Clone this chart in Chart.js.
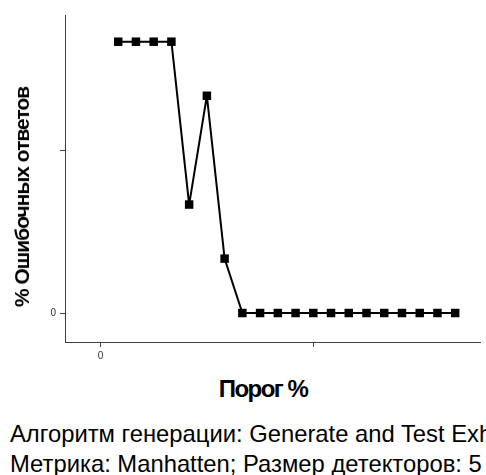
<!DOCTYPE html>
<html lang="ru">
<head>
  <meta charset="UTF-8">
  <title>Ошибочные ответы</title>
  <style>
    * { margin: 0; padding: 0; box-sizing: border-box; }
    body {
      width: 486px;
      height: 475px;
      background: #fff;
      overflow: hidden;
      position: relative;
      font-family: 'Liberation Sans', Arial, sans-serif;
      color: #000;
    }
    #chart {
      position: absolute;
      left: 0;
      top: 0;
    }
    .y-title {
      position: absolute;
      left: 22px;
      top: 197px;
      transform: translate(-50%, -50%) rotate(-90deg);
      font-weight: bold;
      font-size: 21px;
      letter-spacing: -1px;
      white-space: nowrap;
    }
    .x-title {
      position: absolute;
      left: 263px;
      top: 377px;
      transform: translateX(-50%);
      font-weight: bold;
      font-size: 24px;
      line-height: 24px;
      letter-spacing: -1.5px;
      white-space: nowrap;
    }
    .caption {
      position: absolute;
      left: 10px;
      top: 419px;
      font-size: 23.8px;
      line-height: 30px;
      white-space: nowrap;
    }
  </style>
</head>
<body>
<canvas id="chart" width="486" height="360"></canvas>
<div class="y-title">% Ошибочных ответов</div>
<div class="x-title">Порог %</div>
<div class="caption">
  Алгоритм генерации: Generate and Test Exhaustive<br>
  Метрика: Manhatten; Размер детекторов: 5
</div>

<script src="https://cdn.jsdelivr.net/npm/chart.js"></script>
<script>
  // threshold values (%)
  const thresholds = [5, 10, 15, 20, 25, 30, 35, 40, 45, 50, 55, 60, 65, 70, 75, 80, 85, 90, 95, 100];
  // share of wrong answers (%)
  const errorRates = [83.3, 83.3, 83.3, 83.3, 33.3, 66.7, 16.7, 0, 0, 0, 0, 0, 0, 0, 0, 0, 0, 0, 0, 0];
  const xTicks = [0, 60];
  const yTicks = [0, 50];
  const labelledTicks = [0];

  const axisColor = '#404040';

  new Chart(document.getElementById('chart'), {
    type: 'line',
    data: {
      datasets: [{
        data: thresholds.map((t, i) => ({ x: t, y: errorRates[i] })),
        borderColor: '#000',
        borderWidth: 2,
        borderJoinStyle: 'round',
        pointStyle: 'rect',
        pointRadius: 6,
        pointBorderWidth: 0,
        pointBackgroundColor: '#000',
        tension: 0
      }]
    },
    options: {
      responsive: false,
      animation: false,
      layout: { padding: { top: 15, left: 0, right: 0, bottom: 0 } },
      plugins: {
        legend: { display: false },
        tooltip: { enabled: false }
      },
      scales: {
        x: {
          type: 'linear',
          min: -10,
          max: 107,
          afterBuildTicks: s => { s.ticks = xTicks.map(v => ({ value: v })); },
          afterFit: s => { s.height = 18; },
          grid: { drawOnChartArea: false, tickLength: 5, color: axisColor },
          border: { color: axisColor, width: 1 },
          ticks: {
            padding: 3,
            color: '#333',
            font: { size: 10, family: 'Liberation Sans' },
            maxRotation: 0,
            callback: v => labelledTicks.includes(v) ? String(v) : ''
          }
        },
        y: {
          min: -8.9,
          max: 91.5,
          afterBuildTicks: s => { s.ticks = yTicks.map(v => ({ value: v })); },
          afterFit: s => { s.width = 65; },
          grid: { drawOnChartArea: false, tickLength: 5, color: axisColor },
          border: { color: axisColor, width: 1 },
          ticks: {
            padding: 4,
            color: '#333',
            font: { size: 10, family: 'Liberation Sans' },
            callback: v => labelledTicks.includes(v) ? String(v) : ''
          }
        }
      }
    }
  });
</script>
</body>
</html>
